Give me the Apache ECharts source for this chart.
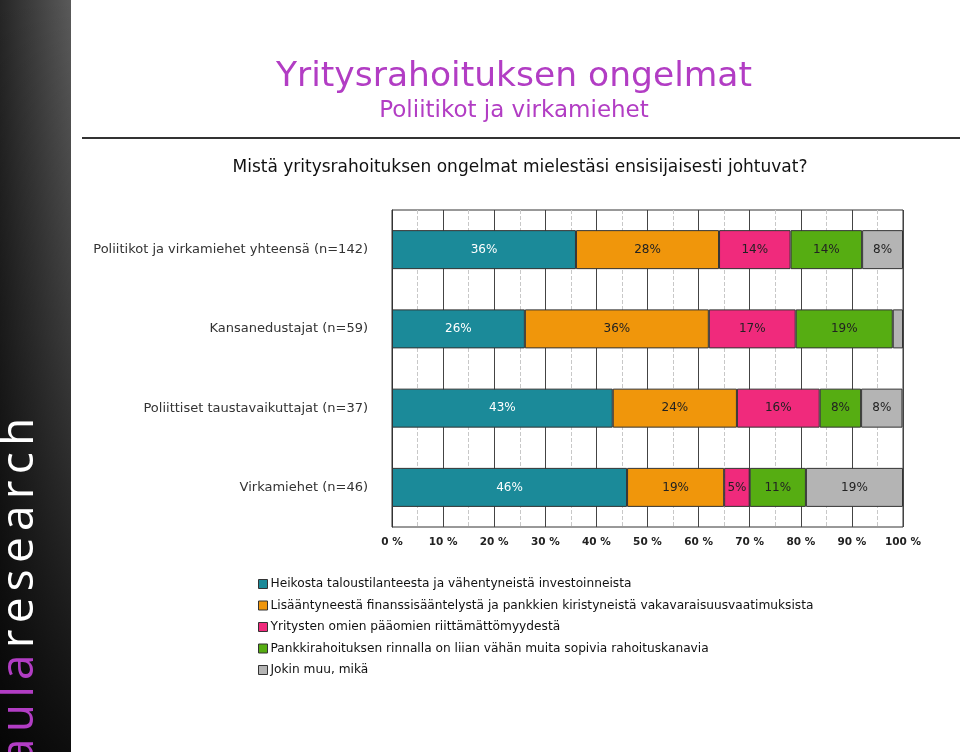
<!DOCTYPE html>
<html>
<head>
    <meta charset="UTF-8">
    <script type="text/javascript" src="https://cdn.jsdelivr.net/npm/echarts@6/dist/echarts.min.js"></script>
    <style type="text/css">
        *{
            margin: 0;
            padding: 0;
        }
        #main{
            width: 960px;
            height: 752px;
            background: #fff;
        }
    </style>
</head>
<body>
<div id="main"></div>
<script type="text/javascript">
    // ryhmät (y-akseli)
    var groups = [
        'Poliitikot ja virkamiehet yhteensä (n=142)',
        'Kansanedustajat (n=59)',
        'Poliittiset taustavaikuttajat (n=37)',
        'Virkamiehet (n=46)'
    ];
    // vastausvaihtoehdot
    var answers = [
        'Heikosta taloustilanteesta ja vähentyneistä investoinneista',
        'Lisääntyneestä finanssisääntelystä ja pankkien kiristyneistä vakavaraisuusvaatimuksista',
        'Yritysten omien pääomien riittämättömyydestä',
        'Pankkirahoituksen rinnalla on liian vähän muita sopivia rahoituskanavia',
        'Jokin muu, mikä'
    ];
    var heikko = [36, 26, 43.2, 46];
    var saantely = [28, 36, 24.3, 19];
    var omat = [14, 17, 16.2, 5];
    var kanavat = [14, 19, 8.1, 11];
    var muu = [8, 2, 8.1, 19];
    var xTicks = [0, 10, 20, 30, 40, 50, 60, 70, 80, 90, 100];

    var values = [heikko, saantely, omat, kanavat, muu];
    var colors = ['#1b8a99', '#f0960b', '#f02a7c', '#56ad12', '#b4b4b4'];
    var labelColors = ['#fff', '#222', '#222', '#222', '#222'];
    var font = '"DejaVu Sans", sans-serif';
    var purple = '#b23dc4';

    var series = [];
    for (var i = 0; i < answers.length; i++) {
        series.push({
            name: answers[i],
            type: 'bar',
            stack: 'all',
            barWidth: 39,
            data: values[i],
            itemStyle: {
                color: colors[i],
                borderColor: '#333',
                borderWidth: 1
            },
            label: {
                show: true,
                position: 'inside',
                color: labelColors[i],
                fontFamily: font,
                fontSize: 12,
                formatter: function (p) {
                    return p.value < 3 ? '' : Math.round(p.value) + '%';
                }
            }
        });
    }

    // logo sivupalkissa, kirjain kerrallaan (väljä kirjainväli)
    var logoFont = '46px "Open Sans", sans-serif';
    var ctx = document.createElement('canvas').getContext('2d');
    ctx.font = logoFont;
    var logo = [];
    var ly = 764;
    var word = 'aularesearch';
    for (var k = 0; k < word.length; k++) {
        logo.push({
            type: 'text',
            x: 43,
            y: ly,
            rotation: Math.PI / 2,
            style: {
                text: word[k],
                font: logoFont,
                fill: k < 4 ? purple : '#fff',
                textAlign: 'left',
                textVerticalAlign: 'bottom'
            }
        });
        ly -= ctx.measureText(word[k]).width + 6.2;
    }

    var myChart = echarts.init(document.getElementById('main'));
    var option = {
        animation: false,
        textStyle: {fontFamily: font},
        graphic: [
            {
                type: 'rect',
                shape: {x: 0, y: 0, width: 71, height: 752},
                style: {
                    fill: new echarts.graphic.LinearGradient(0, 0, 1, 0, [
                        {offset: 0, color: '#262626'},
                        {offset: 1, color: '#5a5a5a'}
                    ])
                }
            },
            {
                type: 'rect',
                shape: {x: 0, y: 0, width: 71, height: 752},
                style: {
                    fill: new echarts.graphic.LinearGradient(0, 0, 0, 1, [
                        {offset: 0, color: 'rgba(0,0,0,0)'},
                        {offset: 0.45, color: 'rgba(0,0,0,0.35)'},
                        {offset: 1, color: 'rgba(0,0,0,0.85)'}
                    ])
                }
            }
        ].concat(logo).concat([
            {
                type: 'line',
                shape: {x1: 82, y1: 138, x2: 960, y2: 138},
                style: {stroke: '#333', lineWidth: 2}
            },
            {
                type: 'text',
                x: 514,
                y: 77,
                style: {
                    text: 'Yritysrahoituksen ongelmat',
                    fill: purple,
                    font: '34.5px ' + font,
                    textAlign: 'center',
                    textVerticalAlign: 'middle'
                }
            },
            {
                type: 'text',
                x: 514,
                y: 111,
                style: {
                    text: 'Poliitikot ja virkamiehet',
                    fill: purple,
                    font: '23px ' + font,
                    textAlign: 'center',
                    textVerticalAlign: 'middle'
                }
            },
            {
                type: 'text',
                x: 520,
                y: 168,
                style: {
                    text: 'Mistä yritysrahoituksen ongelmat mielestäsi ensisijaisesti johtuvat?',
                    fill: '#111',
                    font: '17px ' + font,
                    textAlign: 'center',
                    textVerticalAlign: 'middle'
                }
            }
        ]),
        grid: {
            left: 392,
            right: 57,
            top: 210,
            height: 317,
            show: true,
            borderColor: '#333',
            borderWidth: 1
        },
        legend: {
            orient: 'vertical',
            left: 258,
            top: 577,
            padding: 0,
            itemWidth: 9,
            itemHeight: 9,
            itemGap: 7.5,
            icon: 'rect',
            itemStyle: {borderColor: '#333', borderWidth: 1},
            textStyle: {fontSize: 12.2, lineHeight: 14, color: '#111', fontFamily: font, padding: [0, 0, 0, -2]},
            data: answers
        },
        xAxis: {
            type: 'value',
            min: xTicks[0],
            max: xTicks[xTicks.length - 1],
            interval: 10,
            axisLine: {show: false},
            axisTick: {show: false},
            axisLabel: {
                formatter: '{value} %',
                fontSize: 10.5,
                fontWeight: 'bold',
                color: '#222',
                margin: 10
            },
            splitLine: {show: true, lineStyle: {color: '#444', width: 1}},
            minorSplitLine: {show: true, lineStyle: {color: '#c8c8c8', type: 'dashed', width: 1}},
            minorTick: {show: false, splitNumber: 2}
        },
        yAxis: {
            type: 'category',
            inverse: true,
            data: groups,
            axisLine: {show: true, lineStyle: {color: '#333'}},
            axisTick: {show: false},
            axisLabel: {fontSize: 13, color: '#333', margin: 24}
        },
        series: series
    };
    myChart.setOption(option);
</script>
</body>
</html>
